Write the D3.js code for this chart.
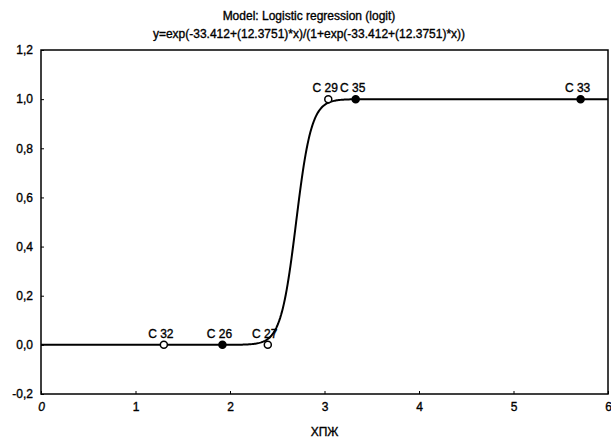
<!DOCTYPE html>
<html>
<head>
<meta charset="utf-8">
<script src="https://cdn.jsdelivr.net/npm/d3@7"></script>
<style>
  body { margin: 0; background: #fff; }
  text { font-family: "Liberation Sans", Arial, sans-serif; fill: #000; stroke: #000; stroke-width: 0.35px; }
</style>
</head>
<body>
<div id="chart"></div>
<script>
const w = 611;
const h = 440;
const margin = { top: 50, right: 3, bottom: 46, left: 41 };

// observed cases
const caseNames = ["C 32", "C 26", "C 27", "C 29", "C 35", "C 33"];
const caseX = [1.3, 1.92, 2.4, 3.04, 3.33, 5.71];
const caseY = [0, 0, 0, 1, 1, 1];
const caseFilled = [false, true, false, false, true, true];

// fitted model coefficients (from the title)
const coefA = -33.412;
const coefB = 12.3751;

const xTicks = [0, 1, 2, 3, 4, 5, 6];
const yTicks = [-0.2, 0, 0.2, 0.4, 0.6, 0.8, 1.0, 1.2];
const yTickLabels = ["-0,2", "0,0", "0,2", "0,4", "0,6", "0,8", "1,0", "1,2"];

const titleLines = [
  "Model: Logistic regression (logit)",
  "y=exp(-33.412+(12.3751)*x)/(1+exp(-33.412+(12.3751)*x))"
];
const xTitle = "ХПЖ";

let x = d3.scaleLinear().domain([0, 6]).range([margin.left, w - margin.right]);
let y = d3.scaleLinear().domain([-0.2, 1.2]).range([h - margin.bottom, margin.top]);

let svg = d3.select("#chart").append("svg").attr("width", w).attr("height", h);

// title
svg.selectAll(".title")
  .data(titleLines)
  .enter()
  .append("text")
  .attr("class", "title")
  .attr("x", 309)
  .attr("y", (d, i) => 20 + i * 18)
  .attr("text-anchor", "middle")
  .style("font-size", "12px")
  .text(d => d);

// frame
svg.append("rect")
  .attr("x", x(0))
  .attr("y", y(1.2))
  .attr("width", x(6) - x(0))
  .attr("height", y(-0.2) - y(1.2))
  .attr("fill", "none")
  .attr("stroke", "#000")
  .attr("stroke-width", 1.5);

// axes
let xAxis = svg.append("g")
  .attr("transform", `translate(0,${y(-0.2)})`)
  .call(d3.axisBottom(x).tickValues(xTicks).tickSize(-3).tickPadding(8).tickFormat(d3.format("d")));
let yAxis = svg.append("g")
  .attr("transform", `translate(${x(0)},0)`)
  .call(d3.axisLeft(y).tickValues(yTicks).tickSize(-3).tickPadding(8).tickFormat((d, i) => yTickLabels[i]));
[xAxis, yAxis].forEach(g => {
  g.select(".domain").remove();
  g.selectAll("line").attr("stroke", "#000");
  g.selectAll("text")
    .style("font-size", "12px")
    .style("font-family", "'Liberation Sans', Arial, sans-serif");
});
xAxis.selectAll("text").style("font-style", d => (d === 0 ? "italic" : "normal"));

// x title
svg.append("text")
  .attr("x", (x(0) + x(6)) / 2)
  .attr("y", 436)
  .attr("text-anchor", "middle")
  .style("font-size", "12px")
  .text(xTitle);

// fitted curve
let curveX = d3.range(0, 6.0001, 0.01);
let line = d3.line()
  .x(d => x(d))
  .y(d => y(Math.exp(coefA + coefB * d) / (1 + Math.exp(coefA + coefB * d))));
svg.append("path")
  .datum(curveX)
  .attr("d", line)
  .attr("fill", "none")
  .attr("stroke", "#000")
  .attr("stroke-width", 2);

// cases
let pts = svg.selectAll(".pt")
  .data(caseNames)
  .enter()
  .append("g")
  .attr("class", "pt");
pts.append("circle")
  .attr("cx", (d, i) => x(caseX[i]))
  .attr("cy", (d, i) => y(caseY[i]))
  .attr("r", 3.5)
  .attr("fill", (d, i) => (caseFilled[i] ? "#000" : "#fff"))
  .attr("stroke", "#000")
  .attr("stroke-width", 1.5);
pts.append("text")
  .attr("x", (d, i) => x(caseX[i]) - 3)
  .attr("y", (d, i) => y(caseY[i]) - 7)
  .attr("text-anchor", "middle")
  .style("font-size", "12px")
  .text(d => d);
</script>
</body>
</html>
